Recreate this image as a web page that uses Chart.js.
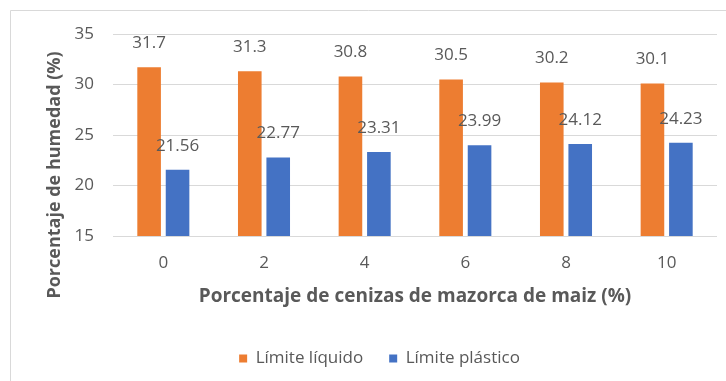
<!DOCTYPE html>
<html>
<head>
<meta charset="utf-8">
<script src="https://cdn.jsdelivr.net/npm/chart.js@4"></script>
<style>
  html, body { margin: 0; padding: 0; background: #fff; }
  #wrap { width: 726px; height: 381px; position: relative; }
</style>
</head>
<body>
<div id="wrap"><canvas id="c"></canvas></div>
<script>
// Ash content of corn cob (%) on the x axis
const categories = ['0', '2', '4', '6', '8', '10'];
// Atterberg limits (%)
const limiteLiquido = [31.7, 31.3, 30.8, 30.5, 30.2, 30.1];
const limitePlastico = [21.56, 22.77, 23.31, 23.99, 24.12, 24.23];
const yTicks = [15, 20, 25, 30, 35];

const TEXT = '#595959';
const GRID = '#D9D9D9';
Chart.defaults.font.family = "'Open Sans', sans-serif";
Chart.defaults.color = TEXT;

// Frame, value labels, legend offset and the rotated y-axis title
const extras = {
  id: 'extras',
  afterLayout(chart) {
    const lg = chart.legend;
    lg.left += 21;
    lg.right += 21;
  },
  beforeDraw(chart) {
    const ctx = chart.ctx;
    ctx.save();
    ctx.fillStyle = '#fff';
    ctx.fillRect(0, 0, chart.width, chart.height);
    ctx.strokeStyle = GRID;
    ctx.lineWidth = 1;
    ctx.beginPath();
    ctx.moveTo(10.5, chart.height);
    ctx.lineTo(10.5, 10.5);
    ctx.lineTo(chart.width, 10.5);
    ctx.stroke();
    ctx.restore();
  },
  afterDatasetsDraw(chart) {
    const ctx = chart.ctx;
    ctx.save();
    ctx.font = "17px 'Open Sans', sans-serif";
    ctx.fillStyle = TEXT;
    ctx.textAlign = 'center';
    ctx.textBaseline = 'middle';
    chart.data.datasets.forEach((ds, i) => {
      const meta = chart.getDatasetMeta(i);
      meta.data.forEach((bar, j) => {
        ctx.fillText(String(ds.data[j]), bar.x, bar.y - 24);
      });
    });
    ctx.restore();
  },
  afterDraw(chart) {
    const ctx = chart.ctx;
    ctx.save();
    ctx.font = "bold 18px 'Open Sans', sans-serif";
    ctx.fillStyle = TEXT;
    ctx.textAlign = 'center';
    ctx.textBaseline = 'middle';
    ctx.translate(55, 175);
    ctx.rotate(-Math.PI / 2);
    ctx.fillText('Porcentaje de humedad (%)', 0, 0);
    ctx.restore();
  }
};

new Chart(document.getElementById('c'), {
  type: 'bar',
  data: {
    labels: categories,
    datasets: [
      { label: 'Límite líquido', data: limiteLiquido, backgroundColor: '#ED7D31',
        categoryPercentage: 0.565, barPercentage: 0.83 },
      { label: 'Límite plástico', data: limitePlastico, backgroundColor: '#4472C4',
        categoryPercentage: 0.565, barPercentage: 0.83 }
    ]
  },
  options: {
    responsive: true,
    maintainAspectRatio: false,
    animation: false,
    layout: { padding: { left: 0, right: 9, top: 34, bottom: 4 } },
    plugins: {
      tooltip: { enabled: false },
      legend: {
        position: 'bottom',
        labels: { boxWidth: 8, boxHeight: 8, padding: 26, color: TEXT,
                  font: { size: 17 } }
      }
    },
    scales: {
      x: {
        grid: { display: false },
        border: { display: false },
        ticks: { color: TEXT, font: { size: 17 }, padding: 9 },
        title: { display: true, text: 'Porcentaje de cenizas de mazorca de maiz (%)',
                 color: TEXT, font: { size: 19, weight: 'bold' }, padding: { top: 0, bottom: 16 } },
        afterFit(scale) { scale.height = 88; }
      },
      y: {
        min: 15, max: 35,
        afterBuildTicks(scale) { scale.ticks = yTicks.map(v => ({ value: v })); },
        grid: { color: GRID, drawTicks: false },
        border: { display: false },
        ticks: { color: TEXT, font: { size: 17 }, padding: 19 },
        afterFit(scale) { scale.width = 113; }
      }
    }
  },
  plugins: [extras]
});
</script>
</body>
</html>
